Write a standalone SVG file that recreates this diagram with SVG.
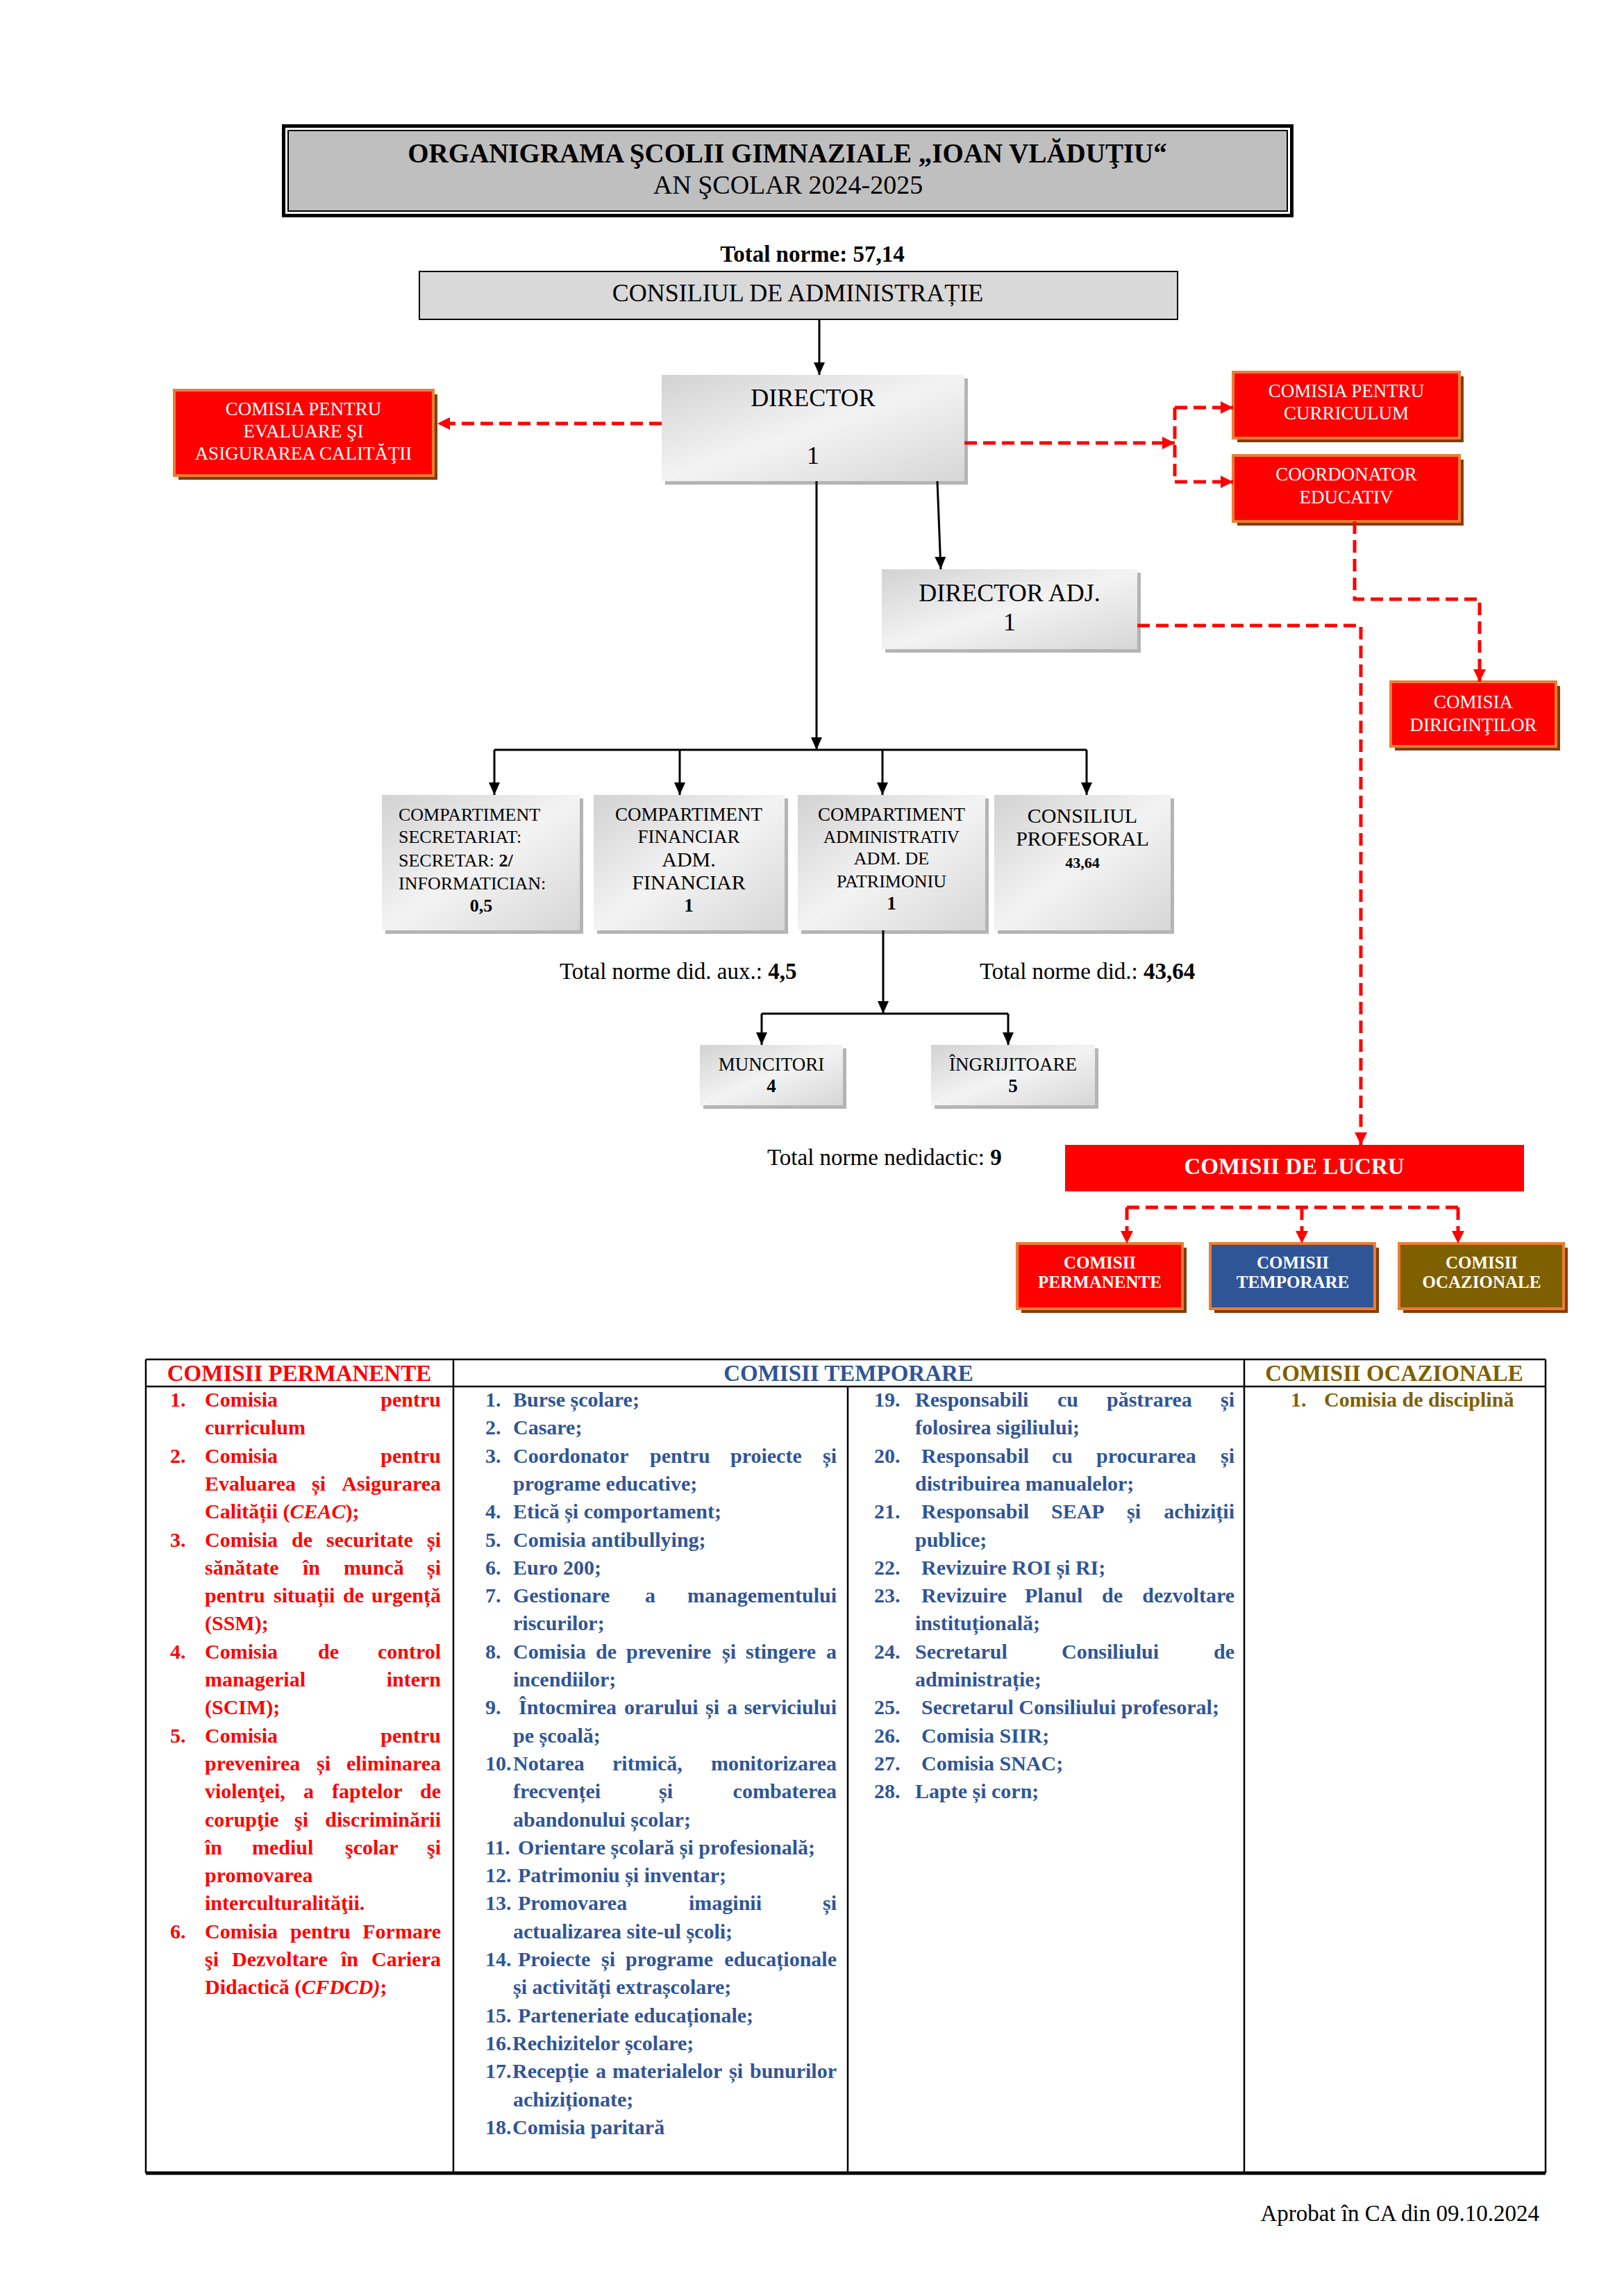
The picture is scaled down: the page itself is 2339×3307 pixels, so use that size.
<svg xmlns="http://www.w3.org/2000/svg" width="2339" height="3307" viewBox="0 0 2339 3307">
<style>
text{font-family:"Liberation Serif","Times New Roman",serif}
.b{font-weight:bold}
.i{font-style:italic}
.c{text-anchor:middle}
.e{text-anchor:end}
.w{fill:#fff}
.r{fill:#ff0000}
.bl{fill:#2F5597}
.ol{fill:#7F6000}
.L{font-size:30px;font-weight:bold}
.blk{stroke:#000;stroke-width:3;fill:none}
.dash{stroke:#ff0000;stroke-width:5;fill:none;stroke-dasharray:18 9}
.gsh{fill:#b4b4b4}
.gb{fill:url(#gg)}
.rsh{fill:#843C0C}
.rb{stroke:#ED7D31;stroke-width:4}
.tl{stroke:#000;stroke-width:2.5}
</style>
<defs>
<linearGradient id="gg" x1="0" y1="0" x2="1" y2="1">
<stop offset="0" stop-color="#d2d2d2"/>
<stop offset="0.5" stop-color="#f3f3f3"/>
<stop offset="1" stop-color="#d6d6d6"/>
</linearGradient>
<marker id="ab" markerWidth="18" markerHeight="16" refX="18" refY="8" orient="auto" markerUnits="userSpaceOnUse"><path d="M0,0 L18,8 L0,16 z" fill="#000"/></marker>
<marker id="ar" markerWidth="18" markerHeight="18" refX="18" refY="9" orient="auto" markerUnits="userSpaceOnUse"><path d="M0,0 L18,9 L0,18 z" fill="#ff0000"/></marker>
</defs>
<rect width="2339" height="3307" fill="#fff"/>

<g id="title">
<rect x="408.5" y="181.5" width="1452" height="129" fill="none" stroke="#000" stroke-width="5"/>
<rect x="415" y="188" width="1439" height="116" fill="#bfbfbf" stroke="#000" stroke-width="2"/>
<text x="1134" y="234" class="b c" font-size="39">ORGANIGRAMA ŞCOLII GIMNAZIALE „IOAN VLĂDUŢIU“</text>
<text x="1135" y="279" class="c" font-size="38">AN ŞCOLAR 2024-2025</text>
</g>

<text x="1170" y="377" class="b c" font-size="33">Total norme: 57,14</text>

<g id="consiliul-admin">
<rect x="604" y="391" width="1092" height="69" fill="#d9d9d9" stroke="#000" stroke-width="2"/>
<text x="1149" y="434" class="c" font-size="36">CONSILIUL DE ADMINISTRAȚIE</text>
</g>

<g id="director">
<rect x="958" y="545" width="436" height="153" class="gsh"/>
<rect x="953" y="540" width="436" height="153" class="gb"/>
<text x="1171" y="585" class="c" font-size="36">DIRECTOR</text>
<text x="1171" y="668" class="c" font-size="36">1</text>
</g>

<g id="ceac">
<rect x="257" y="568" width="373" height="123" class="rsh"/>
<rect x="251" y="562" width="373" height="123" class="r rb"/>
<text x="437" y="598" class="c w" font-size="27">COMISIA PENTRU</text>
<text x="437" y="630" class="c w" font-size="27">EVALUARE ŞI</text>
<text x="437" y="662" class="c w" font-size="27">ASIGURAREA CALITĂŢII</text>
</g>

<g id="curriculum">
<rect x="1782" y="542" width="326" height="95" class="rsh"/>
<rect x="1776" y="536" width="326" height="95" class="r rb"/>
<text x="1939" y="572" class="c w" font-size="27">COMISIA PENTRU</text>
<text x="1939" y="604" class="c w" font-size="27">CURRICULUM</text>
</g>

<g id="coordonator">
<rect x="1782" y="662" width="326" height="95" class="rsh"/>
<rect x="1776" y="656" width="326" height="95" class="r rb"/>
<text x="1939" y="692" class="c w" font-size="27">COORDONATOR</text>
<text x="1939" y="725" class="c w" font-size="27">EDUCATIV</text>
</g>

<g id="diriginti">
<rect x="2009" y="988" width="238" height="93" class="rsh"/>
<rect x="2003" y="982" width="238" height="93" class="r rb"/>
<text x="2122" y="1020" class="c w" font-size="27">COMISIA</text>
<text x="2122" y="1053" class="c w" font-size="27">DIRIGINŢILOR</text>
</g>

<g id="director-adj">
<rect x="1275" y="825" width="368" height="115" class="gsh"/>
<rect x="1270" y="820" width="368" height="115" class="gb"/>
<text x="1454" y="866" class="c" font-size="36">DIRECTOR ADJ.</text>
<text x="1454" y="908" class="c" font-size="36">1</text>
</g>

<g id="comp-secretariat">
<rect x="555" y="1150" width="285" height="195" class="gsh"/>
<rect x="550" y="1145" width="285" height="195" class="gb"/>
<text x="574" y="1182" font-size="26">COMPARTIMENT</text>
<text x="574" y="1214" font-size="26">SECRETARIAT:</text>
<text x="574" y="1248" font-size="26">SECRETAR: <tspan class="b">2/</tspan></text>
<text x="574" y="1281" font-size="26">INFORMATICIAN:</text>
<text x="693" y="1313" class="b c" font-size="26">0,5</text>
</g>

<g id="comp-financiar">
<rect x="860" y="1150" width="275" height="195" class="gsh"/>
<rect x="855" y="1145" width="275" height="195" class="gb"/>
<text x="992" y="1182" class="c" font-size="27">COMPARTIMENT</text>
<text x="992" y="1214" class="c" font-size="27">FINANCIAR</text>
<text x="992" y="1248" class="c" font-size="30">ADM.</text>
<text x="992" y="1281" class="c" font-size="30">FINANCIAR</text>
<text x="992" y="1313" class="b c" font-size="27">1</text>
</g>

<g id="comp-administrativ">
<rect x="1154" y="1150" width="270" height="195" class="gsh"/>
<rect x="1149" y="1145" width="270" height="195" class="gb"/>
<text x="1284" y="1182" class="c" font-size="27">COMPARTIMENT</text>
<text x="1284" y="1214" class="c" font-size="25">ADMINISTRATIV</text>
<text x="1284" y="1245" class="c" font-size="26">ADM. DE</text>
<text x="1284" y="1278" class="c" font-size="26">PATRIMONIU</text>
<text x="1284" y="1310" class="b c" font-size="27">1</text>
</g>

<g id="consiliul-profesoral">
<rect x="1437" y="1150" width="254" height="195" class="gsh"/>
<rect x="1432" y="1145" width="254" height="195" class="gb"/>
<text x="1559" y="1185" class="c" font-size="30">CONSILIUL</text>
<text x="1559" y="1218" class="c" font-size="30">PROFESORAL</text>
<text x="1559" y="1250" class="b c" font-size="22">43,64</text>
</g>

<text x="806" y="1410" font-size="33">Total norme did. aux.: <tspan class="b">4,5</tspan></text>
<text x="1411" y="1410" font-size="33">Total norme did.: <tspan class="b">43,64</tspan></text>

<g id="muncitori">
<rect x="1013" y="1510" width="206" height="87" class="gsh"/>
<rect x="1008" y="1505" width="206" height="87" class="gb"/>
<text x="1111" y="1542" class="c" font-size="27">MUNCITORI</text>
<text x="1111" y="1573" class="b c" font-size="27">4</text>
</g>

<g id="ingrijitoare">
<rect x="1346" y="1510" width="236" height="87" class="gsh"/>
<rect x="1341" y="1505" width="236" height="87" class="gb"/>
<text x="1459" y="1542" class="c" font-size="27">ÎNGRIJITOARE</text>
<text x="1459" y="1573" class="b c" font-size="27">5</text>
</g>

<text x="1105" y="1678" font-size="33">Total norme nedidactic: <tspan class="b">9</tspan></text>

<g id="comisii-de-lucru">
<rect x="1534" y="1649" width="661" height="67" fill="#ff0000"/>
<text x="1864" y="1691" class="b c w" font-size="33">COMISII DE LUCRU</text>
</g>

<g id="comisii-permanente">
<rect x="1471" y="1797" width="238" height="94" class="rsh"/>
<rect x="1465" y="1791" width="238" height="94" class="r rb"/>
<text x="1584" y="1827" class="b c w" font-size="25">COMISII</text>
<text x="1584" y="1855" class="b c w" font-size="25">PERMANENTE</text>
</g>
<g id="comisii-temporare">
<rect x="1749" y="1797" width="237" height="94" class="rsh"/>
<rect x="1743" y="1791" width="237" height="94" fill="#2F5597" class="rb"/>
<text x="1862" y="1827" class="b c w" font-size="25">COMISII</text>
<text x="1862" y="1855" class="b c w" font-size="25">TEMPORARE</text>
</g>
<g id="comisii-ocazionale">
<rect x="2021" y="1797" width="237" height="94" class="rsh"/>
<rect x="2015" y="1791" width="237" height="94" fill="#7F6000" class="rb"/>
<text x="2134" y="1827" class="b c w" font-size="25">COMISII</text>
<text x="2134" y="1855" class="b c w" font-size="25">OCAZIONALE</text>
</g>

<g id="connectors">
<path class="blk" d="M1180,460 V540" marker-end="url(#ab)"/>
<path class="blk" d="M1350,693 L1355,820" marker-end="url(#ab)"/>
<path class="blk" d="M1176,693 V1080" marker-end="url(#ab)"/>
<path class="blk" d="M712,1080 H1565" stroke-width="4"/>
<path class="blk" d="M712,1080 V1145" marker-end="url(#ab)"/>
<path class="blk" d="M979,1080 V1145" marker-end="url(#ab)"/>
<path class="blk" d="M1271,1080 V1145" marker-end="url(#ab)"/>
<path class="blk" d="M1565,1080 V1145" marker-end="url(#ab)"/>
<path class="blk" d="M1272,1340 V1460" marker-end="url(#ab)"/>
<path class="blk" d="M1097,1460 H1452"/>
<path class="blk" d="M1097,1460 V1505" marker-end="url(#ab)"/>
<path class="blk" d="M1452,1460 V1505" marker-end="url(#ab)"/>
<path class="dash" d="M953,610 H630" marker-end="url(#ar)"/>
<path class="dash" d="M1389,638 H1692" marker-end="url(#ar)"/>
<path class="dash" d="M1692,587 V694"/>
<path class="dash" d="M1692,587 H1776" marker-end="url(#ar)"/>
<path class="dash" d="M1692,694 H1776" marker-end="url(#ar)"/>
<path class="dash" d="M1951,751 V863 H2131 V982" marker-end="url(#ar)"/>
<path class="dash" d="M1638,901 H1960 V1649" marker-end="url(#ar)"/>
<path class="dash" d="M1623,1739 H2100"/>
<path class="dash" d="M1623,1739 V1791" marker-end="url(#ar)"/>
<path class="dash" d="M1875,1739 V1791" marker-end="url(#ar)"/>
<path class="dash" d="M2100,1739 V1791" marker-end="url(#ar)"/>
</g>

<g id="table">
<path class="tl" d="M210,1958 H2226 M210,1997 H2226 M210,1958 V3130 M2226,1958 V3130 M653,1958 V3130 M1221,1997 V3130 M1792,1958 V3130"/>
<path d="M210,3130 H2226" stroke="#000" stroke-width="5"/>
<text x="431" y="1989" class="b c r" font-size="33">COMISII PERMANENTE</text>
<text x="1222" y="1989" class="b c bl" font-size="33">COMISII TEMPORARE</text>
<text x="2008" y="1989" class="b c ol" font-size="33">COMISII OCAZIONALE</text>
</g>

<g id="list-permanente" class="L r">
<text x="245" y="2026">1.</text><text x="295" y="2026">Comisia</text><text x="635" y="2026" class="e">pentru</text>
<text x="295" y="2066">curriculum</text>
<text x="245" y="2107">2.</text><text x="295" y="2107">Comisia</text><text x="635" y="2107" class="e">pentru</text>
<text x="295" y="2147">Evaluarea</text><text x="449" y="2147">și</text><text x="635" y="2147" class="e">Asigurarea</text>
<text x="295" y="2187">Calității (<tspan class="i">CEAC</tspan>);</text>
<text x="245" y="2228">3.</text><text x="295" y="2228">Comisia</text><text x="420" y="2228">de</text><text x="470" y="2228">securitate</text><text x="635" y="2228" class="e">și</text>
<text x="295" y="2268">sănătate</text><text x="436" y="2268">în</text><text x="495" y="2268">muncă</text><text x="635" y="2268" class="e">și</text>
<text x="295" y="2308">pentru</text><text x="394" y="2308">situații</text><text x="494" y="2308">de</text><text x="635" y="2308" class="e">urgență</text>
<text x="295" y="2348">(SSM);</text>
<text x="245" y="2389">4.</text><text x="295" y="2389">Comisia</text><text x="458" y="2389">de</text><text x="635" y="2389" class="e">control</text>
<text x="295" y="2429">managerial</text><text x="635" y="2429" class="e">intern</text>
<text x="295" y="2469">(SCIM);</text>
<text x="245" y="2510">5.</text><text x="295" y="2510">Comisia</text><text x="635" y="2510" class="e">pentru</text>
<text x="295" y="2550">prevenirea</text><text x="456" y="2550">și</text><text x="635" y="2550" class="e">eliminarea</text>
<text x="295" y="2590">violenţei,</text><text x="437" y="2590">a</text><text x="478" y="2590">faptelor</text><text x="635" y="2590" class="e">de</text>
<text x="295" y="2631">corupţie</text><text x="424" y="2631">şi</text><text x="635" y="2631" class="e">discriminării</text>
<text x="295" y="2671">în</text><text x="363" y="2671">mediul</text><text x="497" y="2671">şcolar</text><text x="635" y="2671" class="e">şi</text>
<text x="295" y="2711">promovarea</text>
<text x="295" y="2751">interculturalităţii.</text>
<text x="245" y="2792">6.</text><text x="295" y="2792">Comisia</text><text x="418" y="2792">pentru</text><text x="635" y="2792" class="e">Formare</text>
<text x="295" y="2832">şi</text><text x="334" y="2832">Dezvoltare</text><text x="491" y="2832">în</text><text x="635" y="2832" class="e">Cariera</text>
<text x="295" y="2872">Didactică (<tspan class="i">CFDCD)</tspan>;</text>
</g>

<g id="list-temporare-1" class="L bl">
<text x="699" y="2026">1.</text><text x="739" y="2026">Burse școlare;</text>
<text x="699" y="2066">2.</text><text x="739" y="2066">Casare;</text>
<text x="699" y="2107">3.</text><text x="739" y="2107">Coordonator</text><text x="936" y="2107">pentru</text><text x="1052" y="2107">proiecte</text><text x="1205" y="2107" class="e">și</text>
<text x="739" y="2147">programe educative;</text>
<text x="699" y="2187">4.</text><text x="739" y="2187">Etică și comportament;</text>
<text x="699" y="2228">5.</text><text x="739" y="2228">Comisia antibullying;</text>
<text x="699" y="2268">6.</text><text x="739" y="2268">Euro 200;</text>
<text x="699" y="2308">7.</text><text x="739" y="2308">Gestionare</text><text x="929" y="2308">a</text><text x="1205" y="2308" class="e">managementului</text>
<text x="739" y="2348">riscurilor;</text>
<text x="699" y="2389">8.</text><text x="739" y="2389">Comisia</text><text x="858" y="2389">de</text><text x="902" y="2389">prevenire</text><text x="1040" y="2389">și</text><text x="1074" y="2389">stingere</text><text x="1205" y="2389" class="e">a</text>
<text x="739" y="2429">incendiilor;</text>
<text x="699" y="2469">9.</text><text x="747" y="2469">Întocmirea</text><text x="899" y="2469">orarului</text><text x="1016" y="2469">și</text><text x="1047" y="2469">a</text><text x="1205" y="2469" class="e">serviciului</text>
<text x="739" y="2510">pe școală;</text>
<text x="699" y="2550">10.</text><text x="739" y="2550">Notarea</text><text x="882" y="2550">ritmică,</text><text x="1205" y="2550" class="e">monitorizarea</text>
<text x="739" y="2590">frecvenței</text><text x="949" y="2590">și</text><text x="1205" y="2590" class="e">combaterea</text>
<text x="739" y="2631">abandonului școlar;</text>
<text x="699" y="2671">11.</text><text x="746" y="2671">Orientare școlară și profesională;</text>
<text x="699" y="2711">12.</text><text x="746" y="2711">Patrimoniu și inventar;</text>
<text x="699" y="2751">13.</text><text x="746" y="2751">Promovarea</text><text x="992" y="2751">imaginii</text><text x="1205" y="2751" class="e">și</text>
<text x="739" y="2792">actualizarea site-ul școli;</text>
<text x="699" y="2832">14.</text><text x="746" y="2832">Proiecte</text><text x="866" y="2832">și</text><text x="901" y="2832">programe</text><text x="1205" y="2832" class="e">educaționale</text>
<text x="739" y="2872">și activități extrașcolare;</text>
<text x="699" y="2913">15.</text><text x="746" y="2913">Parteneriate educaționale;</text>
<text x="699" y="2953">16.</text><text x="738" y="2953">Rechizitelor școlare;</text>
<text x="699" y="2993">17.</text><text x="738" y="2993">Recepție</text><text x="858" y="2993">a</text><text x="882" y="2993">materialelor</text><text x="1050" y="2993">și</text><text x="1205" y="2993" class="e">bunurilor</text>
<text x="739" y="3034">achiziționate;</text>
<text x="699" y="3074">18.</text><text x="738" y="3074">Comisia paritară</text>
</g>

<g id="list-temporare-2" class="L bl">
<text x="1259" y="2026">19.</text><text x="1318" y="2026">Responsabili</text><text x="1523" y="2026">cu</text><text x="1594" y="2026">păstrarea</text><text x="1778" y="2026" class="e">și</text>
<text x="1318" y="2066">folosirea sigiliului;</text>
<text x="1259" y="2107">20.</text><text x="1327" y="2107">Responsabil</text><text x="1515" y="2107">cu</text><text x="1579" y="2107">procurarea</text><text x="1778" y="2107" class="e">și</text>
<text x="1318" y="2147">distribuirea manualelor;</text>
<text x="1259" y="2187">21.</text><text x="1327" y="2187">Responsabil</text><text x="1514" y="2187">SEAP</text><text x="1623" y="2187">și</text><text x="1778" y="2187" class="e">achiziții</text>
<text x="1318" y="2228">publice;</text>
<text x="1259" y="2268">22.</text><text x="1327" y="2268">Revizuire ROI și RI;</text>
<text x="1259" y="2308">23.</text><text x="1327" y="2308">Revizuire</text><text x="1476" y="2308">Planul</text><text x="1587" y="2308">de</text><text x="1778" y="2308" class="e">dezvoltare</text>
<text x="1318" y="2348">instituțională;</text>
<text x="1259" y="2389">24.</text><text x="1318" y="2389">Secretarul</text><text x="1529" y="2389">Consiliului</text><text x="1778" y="2389" class="e">de</text>
<text x="1318" y="2429">administrație;</text>
<text x="1259" y="2469">25.</text><text x="1327" y="2469">Secretarul Consiliului profesoral;</text>
<text x="1259" y="2510">26.</text><text x="1327" y="2510">Comisia SIIR;</text>
<text x="1259" y="2550">27.</text><text x="1327" y="2550">Comisia SNAC;</text>
<text x="1259" y="2590">28.</text><text x="1318" y="2590">Lapte și corn;</text>
</g>

<g id="list-ocazionale" class="L ol">
<text x="1859" y="2026">1.</text><text x="1907" y="2026">Comisia de disciplină</text>
</g>

<text x="2217" y="3199" class="e" font-size="33">Aprobat în CA din 09.10.2024</text>
</svg>
